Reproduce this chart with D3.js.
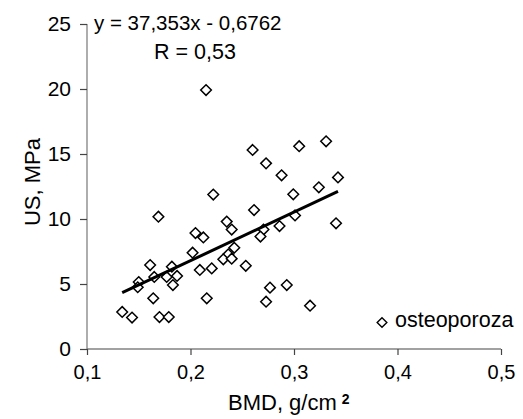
<!DOCTYPE html>
<html>
<head>
<meta charset="utf-8">
<script src="https://cdn.jsdelivr.net/npm/d3@7"></script>
<style>
	body { margin: 0; background: #fff; }
	svg text { font-family: "Liberation Sans", Arial, sans-serif; fill: #000; }
</style>
</head>
<body>
<div id="viz-holder"></div>
<script>
// BMD (g/cm2) vs US (MPa), osteoporoza group
let bmd = [0.134, 0.1435, 0.150, 0.149, 0.161, 0.165, 0.164, 0.170, 0.179, 0.182,
	0.177, 0.187, 0.183, 0.209, 0.2205, 0.2157, 0.202, 0.169,
	0.260, 0.273, 0.288, 0.305, 0.331, 0.3425, 0.222, 0.2993, 0.324, 0.2614,
	0.235, 0.2398, 0.301, 0.286, 0.2705, 0.2676, 0.3406, 0.2048, 0.2124, 0.215,
	0.2423, 0.2365, 0.2317, 0.2398, 0.2534, 0.2768, 0.293, 0.273, 0.3155];
let us = [2.85, 2.42, 5.15, 4.75, 6.46, 5.54, 3.9, 2.46, 2.46, 6.33,
	5.54, 5.62, 4.92, 6.08, 6.2, 3.9, 7.41, 10.18,
	15.31, 14.28, 13.36, 15.6, 15.98, 13.2, 11.88, 11.9, 12.44, 10.69,
	9.8, 9.19, 10.27, 9.46, 9.19, 8.65, 9.67, 8.92, 8.58, 19.92,
	7.79, 7.28, 6.9, 6.95, 6.4, 4.72, 4.92, 3.64, 3.33];
let xTicks = [0.1, 0.2, 0.3, 0.4, 0.5];
let yTicks = [0, 5, 10, 15, 20, 25];
let slope = 37.353, intercept = -0.6762;
let eqText = "y = 37,353x - 0,6762";
let rText = "R = 0,53";
let seriesName = "osteoporoza";

let width = 523, height = 419;
let svg = d3.select('#viz-holder')
	.append('svg')
	.attr('width', width)
	.attr('height', height);

let x = d3.scaleLinear().domain([0.1, 0.5]).range([87, 501]);
let y = d3.scaleLinear().domain([0, 25]).range([349, 24]);
let comma = d => String(d).replace('.', ',');

let xAxis = d3.axisBottom(x).tickValues(xTicks).tickSize(6).tickPadding(10).tickFormat(comma);
let yAxis = d3.axisLeft(y).tickValues(yTicks).tickSize(7).tickPadding(9).tickFormat(comma);

let gx = svg.append('g').attr('transform', 'translate(0,' + y(0) + ')').call(xAxis);
let gy = svg.append('g').attr('transform', 'translate(' + x(0.1) + ',0)').call(yAxis);
[gx, gy].forEach(g => {
	g.select('.domain').attr('stroke', '#444').attr('stroke-width', 1.2);
	g.selectAll('.tick line').attr('stroke', '#444').attr('stroke-width', 1.2);
	g.selectAll('.tick text').style('font-size', '21px').attr('fill', '#000');
});
gx.selectAll('.tick text').style('font-size', '20px');
gx.select('.domain').attr('d', 'M' + x(0.1) + ',0H' + x(0.5));
gy.select('.domain').attr('d', 'M0,' + y(0) + 'V' + y(25)).attr('stroke', '#777');

// markers
let diamond = d3.symbol().type(d3.symbolDiamond2).size(72);
svg.selectAll('.pt')
	.data(bmd.map((d, i) => ({bmd: d, us: us[i]})))
	.enter()
	.append('path')
	.attr('class', 'pt')
	.attr('d', diamond)
	.attr('transform', d => 'translate(' + x(d.bmd) + ',' + y(d.us) + ')')
	.attr('fill', '#fff')
	.attr('stroke', '#000')
	.attr('stroke-width', 1.5);

// trend line over the data range
let xmin = d3.min(bmd), xmax = d3.max(bmd);
svg.append('line')
	.attr('x1', x(xmin)).attr('y1', y(slope * xmin + intercept))
	.attr('x2', x(xmax)).attr('y2', y(slope * xmax + intercept))
	.attr('stroke', '#000')
	.attr('stroke-width', 3);

// equation
svg.append('text').attr('x', 94).attr('y', 30).style('font-size', '20.5px').text(eqText);
svg.append('text').attr('x', 154).attr('y', 59).style('font-size', '21.5px').text(rText);

// legend
svg.append('path')
	.attr('d', d3.symbol().type(d3.symbolDiamond2).size(60))
	.attr('transform', 'translate(382,322.5)')
	.attr('fill', '#fff').attr('stroke', '#000').attr('stroke-width', 1.4);
svg.append('text').attr('x', 395).attr('y', 327).style('font-size', '21.5px').text(seriesName);

// axis titles
let xt = svg.append('text').attr('x', 228).attr('y', 410).style('font-size', '22px');
xt.append('tspan').text('BMD, g/cm');
xt.append('tspan').attr('dx', 5).attr('dy', -6).style('font-size', '14px').style('font-weight', 'bold').text('2');

svg.append('text')
	.attr('transform', 'translate(40,182) rotate(-90)')
	.attr('text-anchor', 'middle')
	.style('font-size', '22px')
	.text('US, MPa');
</script>
</body>
</html>
